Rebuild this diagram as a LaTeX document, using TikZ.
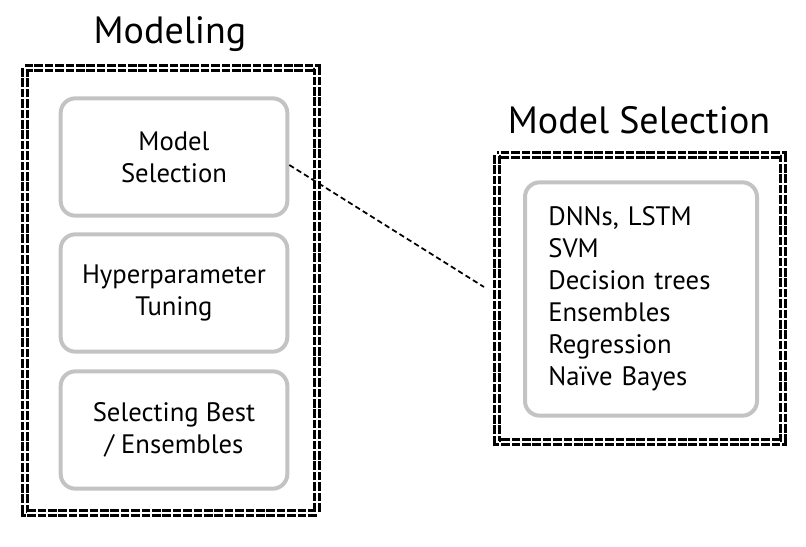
\documentclass[tikz,border=0pt]{standalone}
\usepackage{fontspec}
\setmainfont{PT Sans}
\definecolor{framegray}{RGB}{195, 195, 195}
\usetikzlibrary{positioning, calc}

\tikzset{
  outerframe/.style={draw=black, double=white, double distance=1.1pt, line width=2.1pt,
                     dash pattern=on 6.5pt off 1.3pt},
  stagebox/.style={draw=framegray, line width=3pt, rounded corners=11pt,
                   minimum width=170pt, minimum height=88pt, align=center,
                   font=\fontsize{20}{24}\selectfont},
  titletext/.style={font=\fontsize{28.5}{32}\selectfont},
  linkline/.style={black, line width=1.3pt, dash pattern=on 4pt off 2.5pt}
}

\begin{document}
\begin{tikzpicture}[x=0.75pt, y=-0.75pt]
                    \useasboundingbox (0,0) rectangle (806,546);

                    % Modeling frame
                    \draw[outerframe] (25,68) rectangle (317,513);
                    \node[titletext] (modtitle) at (170,34) {Modeling};

                    % Stages
                    \node[stagebox] (modsel) at (174,157) {Model\\Selection};
                    \node[stagebox] (hyper) at (174,293) {Hyperparameter\\Tuning};
                    \node[stagebox] (best) at (174,430) {Selecting Best\\/ Ensembles};

                    % Model Selection frame
                    \draw[outerframe] (497,155) rectangle (783,442);
                    \node[titletext] (seltitle) at (639,120) {Model Selection};
                    \node[stagebox, minimum width=174pt, minimum height=175pt, align=left,
                          text width=139pt, inner xsep=17pt] (sellist) at (641,299)
                          {DNNs, LSTM\\SVM\\Decision trees\\Ensembles\\Regression\\Naïve Bayes};

                    % Link
                    \coordinate (linkend) at (484,287);
                    \draw[linkline] ($(modsel.east)+(0,8)$) -- (linkend);
                \end{tikzpicture}
\end{document}
